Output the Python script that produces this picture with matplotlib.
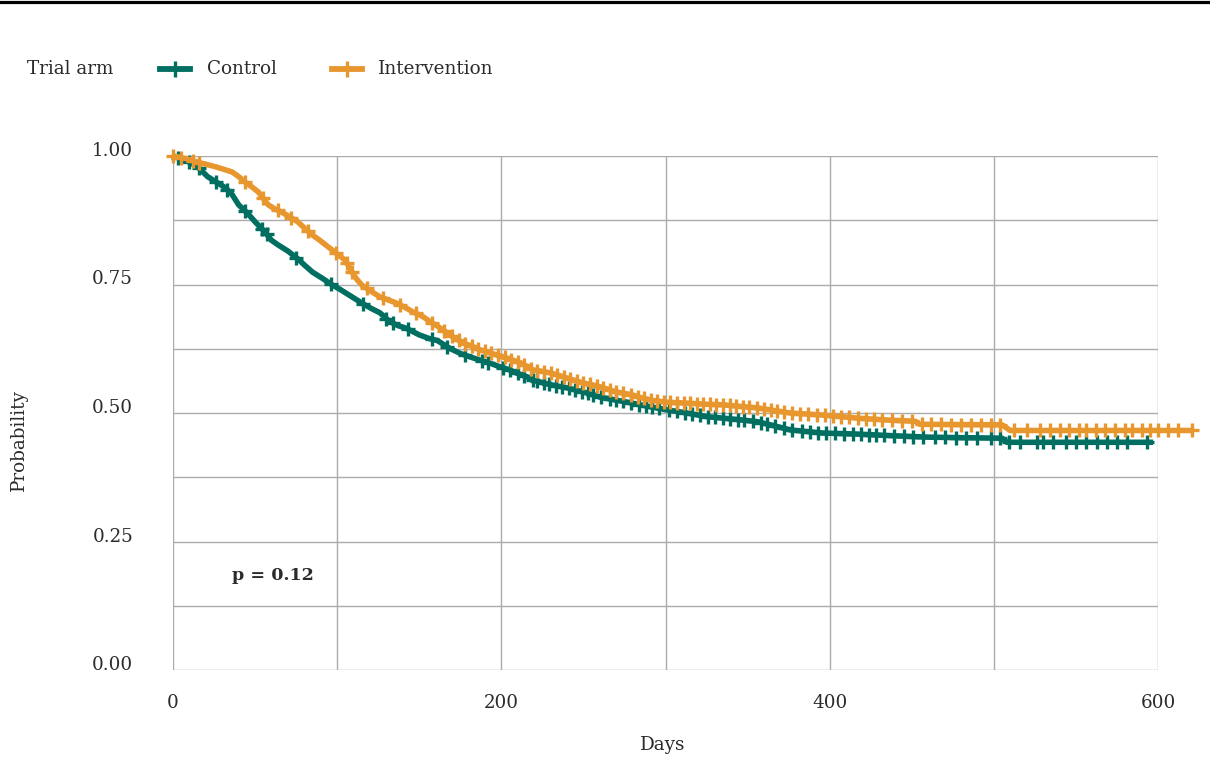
import numpy as np
import matplotlib
matplotlib.use('Agg')
import matplotlib.pyplot as plt
from matplotlib.lines import Line2D

# ---------------- data ----------------
control_t = [0, 5, 10, 15, 21, 27, 32, 36, 40, 45, 50, 56, 60, 64, 70, 76, 80, 85, 91, 97,
             102, 107, 116, 121, 126, 132, 137, 142, 150, 156, 161, 165, 169, 175, 181, 187,
             193, 199, 205, 209, 216, 219, 225, 230, 240, 250, 260, 270, 280, 291, 301, 313,
             325, 335, 345, 356, 365, 376, 386, 396, 417, 437, 460, 480, 505, 508, 597]
control_s = [1.000, 0.995, 0.988, 0.979, 0.960, 0.948, 0.938, 0.925, 0.905, 0.890, 0.872,
             0.852, 0.836, 0.827, 0.815, 0.800, 0.788, 0.774, 0.762, 0.749, 0.740, 0.730,
             0.712, 0.703, 0.695, 0.678, 0.670, 0.665, 0.652, 0.645, 0.641, 0.633, 0.625,
             0.616, 0.609, 0.603, 0.597, 0.590, 0.584, 0.578, 0.570, 0.564, 0.559, 0.555,
             0.549, 0.541, 0.531, 0.525, 0.519, 0.512, 0.506, 0.500, 0.493, 0.490, 0.487,
             0.483, 0.476, 0.467, 0.464, 0.461, 0.459, 0.456, 0.453, 0.452, 0.451, 0.443, 0.443]
control_cens = [3, 10, 16, 26, 33, 44, 54, 57, 75, 96, 116, 130, 134, 143, 158, 167, 178, 188,
                192, 201, 205, 210, 214, 219, 222, 226, 229, 233, 237, 241, 245, 249, 253, 256,
                261, 266, 270, 274, 279, 284, 288, 292, 296, 302, 307, 312, 316, 321, 326, 330,
                335, 339, 344, 348, 353, 358, 362, 367, 372, 377, 383, 388, 393, 398, 403, 409,
                414, 419, 424, 428, 433, 439, 445, 451, 457, 464, 470, 477, 483, 490, 498, 504,
                509, 516, 526, 530, 536, 544, 550, 556, 563, 569, 575, 581, 593]

interv_t = [0, 8, 15, 26, 36, 40, 44, 48, 52, 58, 62, 66, 71, 76, 80, 85, 89, 93, 97, 101,
            105, 109, 112, 115, 120, 126, 131, 136, 141, 146, 152, 157, 162, 167, 172, 177,
            182, 187, 192, 197, 202, 207, 212, 216, 219, 225, 230, 235, 240, 245, 250, 255,
            260, 265, 270, 275, 280, 285, 291, 301, 315, 325, 335, 345, 356, 366, 376, 386,
            396, 407, 417, 427, 437, 452, 455, 505, 510, 621]
interv_s = [1.000, 0.995, 0.988, 0.979, 0.969, 0.960, 0.949, 0.940, 0.930, 0.905, 0.897,
            0.891, 0.882, 0.872, 0.860, 0.846, 0.837, 0.827, 0.817, 0.807, 0.797, 0.774,
            0.760, 0.749, 0.738, 0.726, 0.720, 0.714, 0.706, 0.697, 0.688, 0.677, 0.667,
            0.656, 0.645, 0.636, 0.630, 0.623, 0.618, 0.613, 0.608, 0.603, 0.597, 0.590,
            0.584, 0.581, 0.578, 0.573, 0.568, 0.563, 0.558, 0.555, 0.551, 0.546, 0.541,
            0.538, 0.535, 0.530, 0.525, 0.521, 0.519, 0.517, 0.516, 0.513, 0.510, 0.505,
            0.500, 0.498, 0.496, 0.493, 0.490, 0.488, 0.486, 0.484, 0.478, 0.477, 0.466, 0.466]
interv_cens = [0, 5, 12, 16, 44, 55, 64, 72, 82, 99, 106, 109, 118, 128, 138, 148, 158, 165,
               170, 174, 178, 182, 186, 190, 194, 198, 202, 206, 210, 214, 218, 222, 226, 230,
               234, 238, 242, 246, 250, 254, 258, 262, 266, 270, 274, 279, 283, 287, 291, 295,
               299, 303, 307, 311, 315, 319, 323, 327, 331, 335, 339, 343, 347, 351, 356, 360,
               364, 368, 372, 377, 382, 387, 392, 397, 402, 407, 412, 417, 422, 427, 432, 438,
               444, 450, 456, 462, 468, 474, 480, 486, 492, 498, 504, 512, 520, 528, 534, 540,
               546, 552, 556, 562, 568, 574, 580, 584, 590, 595, 600, 606, 612, 621]

x_grid = [0, 100, 200, 300, 400, 500, 600]
x_labels = [0, 200, 400, 600]
y_grid = [0, 0.125, 0.25, 0.375, 0.5, 0.625, 0.75, 0.875, 1.0]
y_labels = [0, 0.25, 0.5, 0.75, 1.0]
series_names = ['Control', 'Intervention']
p_text = 'p = 0.12'

# ---------------- style ----------------
TEAL = '#006f62'
ORANGE = '#e8972f'
GRID = '#ababab'
TXT = '#2b2b2b'
plt.rcParams['font.family'] = ['DejaVu Serif']
FS = 13.2

W, H = 1210, 760
fig = plt.figure(figsize=(W / 100, H / 100), dpi=100)
ax = fig.add_axes([173 / W, 1 - 670 / H, (1158 - 173) / W, (670 - 156) / H])
ax.set_xlim(0, 600)
ax.set_ylim(0, 1)
ax.set_xticks(x_grid)
ax.set_yticks(y_grid)
ax.grid(True, color=GRID, lw=1.0)
ax.tick_params(length=0, labelbottom=False, labelleft=False)
for sp in ax.spines.values():
    sp.set_visible(False)


def step_value(ts, ss, t):
    return np.interp(t, ts, ss)


for ts, ss, cens, col in [(control_t, control_s, control_cens, TEAL),
                          (interv_t, interv_s, interv_cens, ORANGE)]:
    ax.plot(ts, ss, color=col, lw=4.0, clip_on=False, zorder=3,
            solid_joinstyle='round', solid_capstyle='butt')
    ax.plot(cens, step_value(ts, ss, cens), ls='none', marker='+', ms=10, mew=2.4,
            color=col, clip_on=False, zorder=3)

# tick labels
for v in y_labels:
    ax.annotate(f'{v:.2f}', xy=(0, v), xycoords=('axes fraction', 'data'),
                xytext=(-40 * 0.72, 0), textcoords='offset points',
                ha='right', va='baseline', fontsize=FS, color=TXT)
for v in x_labels:
    ax.annotate(f'{v}', xy=(v, 0), xycoords=('data', 'axes fraction'),
                xytext=(0, -33 * 0.72), textcoords='offset points',
                ha='center', va='center', fontsize=FS, color=TXT)

ax.text(61, 0.183, p_text, ha='center', va='center', fontsize=FS - 0.6,
        fontweight='bold', color=TXT)

fig.text(663 / W, 1 - 745 / H, 'Days', ha='center', va='center', fontsize=FS, color=TXT)
fig.text(19 / W, 1 - 440 / H, 'Probability', ha='center', va='center', rotation=90,
         fontsize=FS, color=TXT)

# legend
ly = 1 - 69 / H
fig.text(27 / W, ly, 'Trial arm', ha='left', va='center', fontsize=FS, color=TXT)
for (x0, x1, xt), name, col in zip([(160, 190, 207), (332, 362, 378)], series_names,
                                   [TEAL, ORANGE]):
    fig.add_artist(Line2D([x0 / W, x1 / W], [ly, ly], lw=4.2, color=col,
                          transform=fig.transFigure))
    fig.add_artist(Line2D([(x0 + x1) / 2 / W], [ly], marker='+', ms=11, mew=2.4,
                          color=col, transform=fig.transFigure))
    fig.text(xt / W, ly, name, ha='left', va='center', fontsize=FS, color=TXT)

# top rule
fig.add_artist(Line2D([0, 1], [1 - 1.5 / H, 1 - 1.5 / H], lw=2.3, color='black',
                      transform=fig.transFigure))

fig.savefig('out.png', dpi=100)
